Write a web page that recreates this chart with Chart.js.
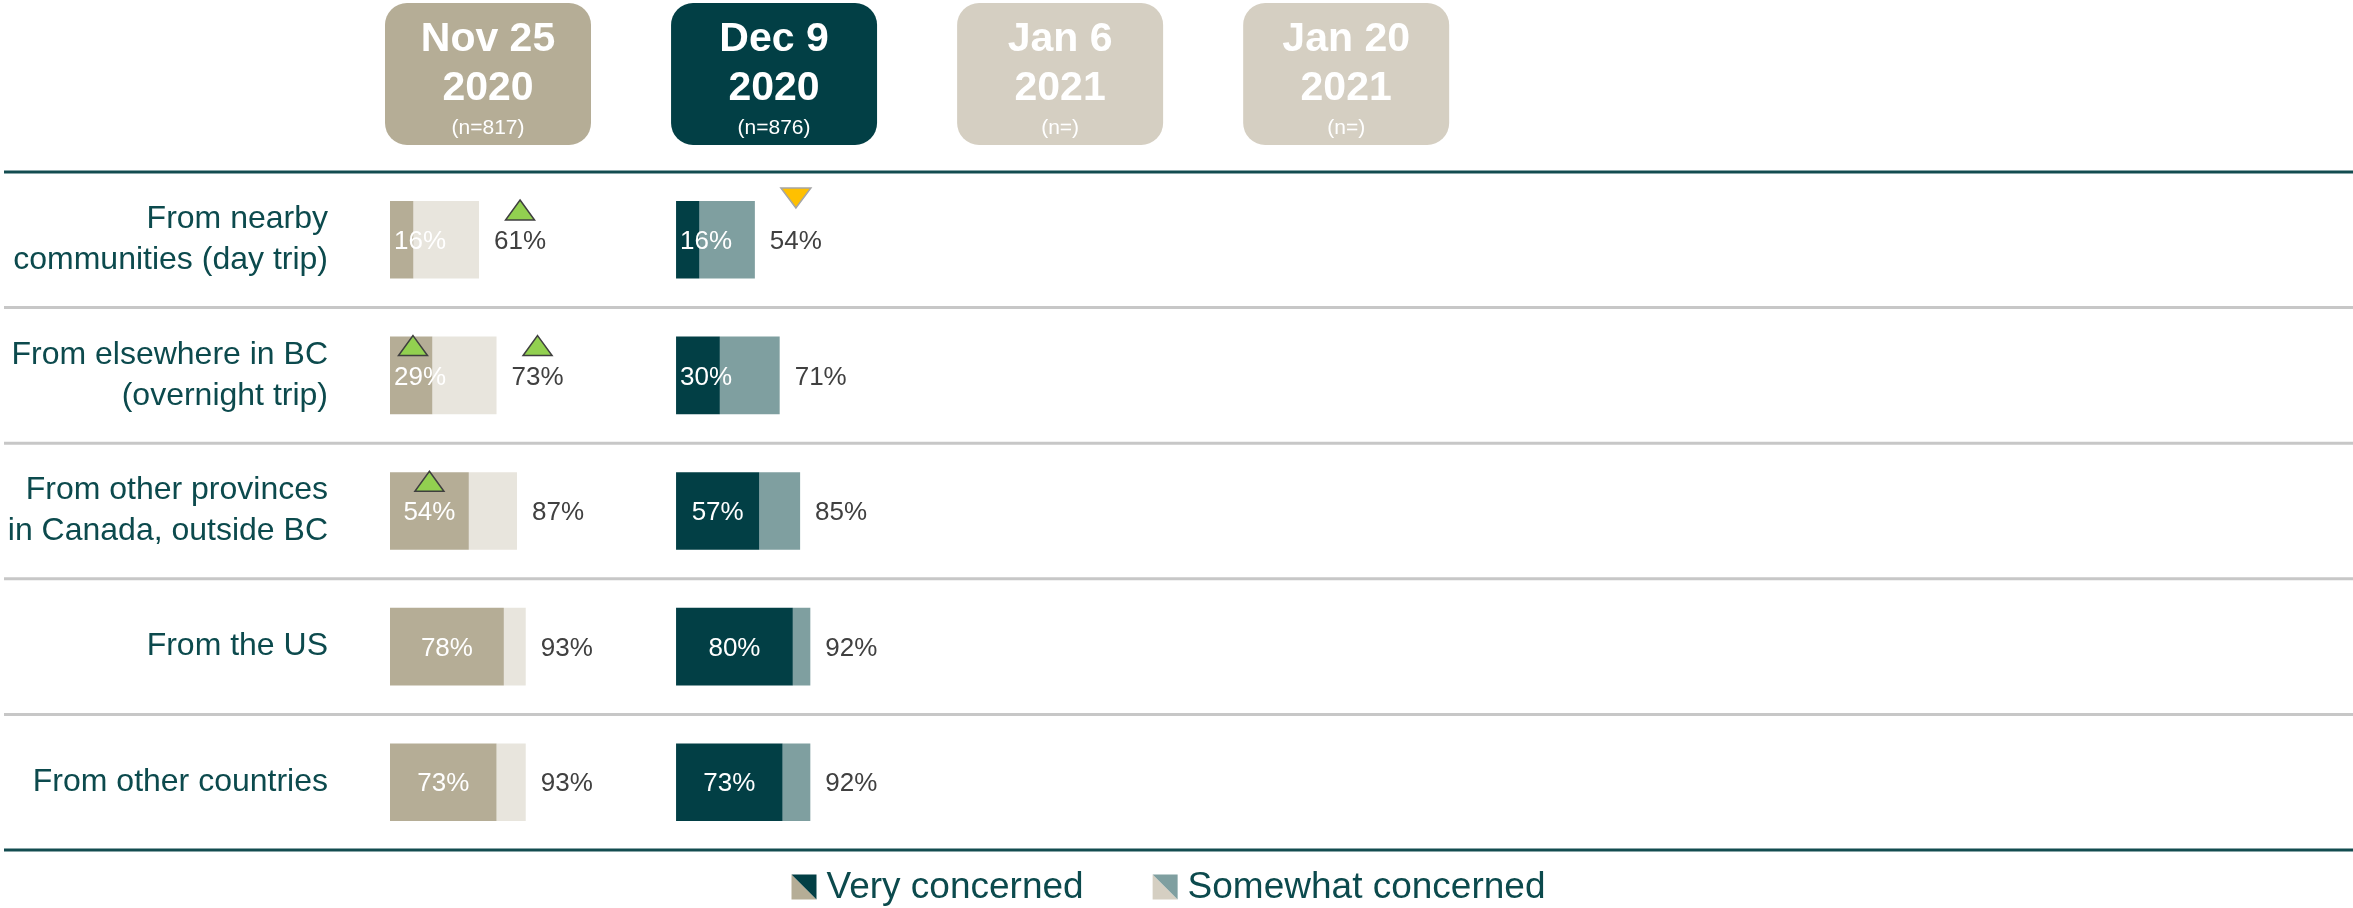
<!DOCTYPE html>
<html lang="en">
<head>
<meta charset="utf-8">
<title>Concern about visitors by origin</title>
<script src="https://cdn.jsdelivr.net/npm/chart.js@4.4.1/dist/chart.umd.min.js"></script>
<style>
    html, body { margin: 0; padding: 0; background: #ffffff; overflow: hidden; }
    #wrap { position: relative; width: 2353px; height: 908px; }
</style>
</head>
<body>
<div id="wrap"><canvas id="concernChart"></canvas></div>
<script>
// Rows (y axis categories)
const rowLabels = [
    ['From nearby', 'communities (day trip)'],
    ['From elsewhere in BC', '(overnight trip)'],
    ['From other provinces', 'in Canada, outside BC'],
    'From the US',
    'From other countries'
];

// Survey waves (column headers)
const waveTitles = ['Nov 25', 'Dec 9', 'Jan 6', 'Jan 20'];
const waveYears = ['2020', '2020', '2021', '2021'];
const waveSamples = ['(n=817)', '(n=876)', '(n=)', '(n=)'];

// % very concerned and % concerned overall (very + somewhat)
const novVery = [16, 29, 54, 78, 73];
const novTotal = [61, 73, 87, 93, 93];
const decVery = [16, 30, 57, 80, 73];
const decTotal = [54, 71, 85, 92, 92];

// significant change markers vs previous wave
const novVerySig = [null, 'up', 'up', null, null];
const novTotalSig = ['up', 'up', null, null, null];
const decVerySig = [null, null, null, null, null];
const decTotalSig = ['down', null, null, null, null];

const legendLabels = ['Very concerned', 'Somewhat concerned'];

// ---- styling ----
const FONT = "'Liberation Sans', Arial, sans-serif";
const LABEL_TEAL = '#0c4a4d';
const headerColors = ['#b5ad96', '#023f45', '#d5cfc2', '#d5cfc2'];
const veryColors = ['#b5ad96', '#023f45'];
const somewhatColors = ['#e8e5dd', '#7f9fa0'];
const legendUpper = ['#023f45', '#7f9fa0'];
const legendLower = ['#b5ad96', '#d5cfc2'];
const WAVE_STEP = 196;  // distance between wave columns, in % units
const X_RANGE = 1345;   // % units visible across the plot area

// waves that have results
const waveData = [
    { wave: 0, very: novVery, total: novTotal, verySig: novVerySig, totalSig: novTotalSig },
    { wave: 1, very: decVery, total: decTotal, verySig: decVerySig, totalSig: decTotalSig }
];

const datasets = [];
waveData.forEach(w => {
    const off = w.wave * WAVE_STEP;
    datasets.push({
        label: waveTitles[w.wave] + ' - ' + legendLabels[0],
        data: w.very.map(v => [off, off + v]),
        backgroundColor: veryColors[w.wave]
    });
    datasets.push({
        label: waveTitles[w.wave] + ' - ' + legendLabels[1],
        data: w.total.map((t, i) => [off + w.very[i], off + t]),
        backgroundColor: somewhatColors[w.wave]
    });
});
datasets.forEach(ds => {
    ds.grouped = false;
    ds.categoryPercentage = 1;
    ds.barPercentage = 0.572;
    ds.borderWidth = 0;
});

function drawArrow(ctx, dir, cx, barTop) {
    if (!dir) return;
    ctx.beginPath();
    if (dir === 'up') {
        ctx.moveTo(cx, barTop - 1);
        ctx.lineTo(cx + 14.5, barTop + 19);
        ctx.lineTo(cx - 14.5, barTop + 19);
        ctx.fillStyle = '#92d050';
        ctx.strokeStyle = '#3f3f3f';
    } else {
        ctx.moveTo(cx - 15, barTop - 13);
        ctx.lineTo(cx + 15, barTop - 13);
        ctx.lineTo(cx, barTop + 7);
        ctx.fillStyle = '#ffc000';
        ctx.strokeStyle = '#a5a5a5';
    }
    ctx.closePath();
    ctx.fill();
    ctx.lineWidth = 1.5;
    ctx.stroke();
}

// row separators, full width
const rowRules = {
    id: 'rowRules',
    beforeDatasetsDraw(chart) {
        const { ctx, scales: { y } } = chart;
        const n = rowLabels.length;
        const step = (y.bottom - y.top) / n;
        ctx.save();
        ctx.lineWidth = 3;
        for (let i = 0; i <= n; i++) {
            const yy = y.top + i * step;
            ctx.strokeStyle = (i === 0 || i === n) ? '#134c50' : '#c7c7c7';
            ctx.beginPath();
            ctx.moveTo(4, yy);
            ctx.lineTo(chart.width, yy);
            ctx.stroke();
        }
        ctx.restore();
    }
};

// rounded wave boxes at the top
const waveHeaders = {
    id: 'waveHeaders',
    beforeDatasetsDraw(chart) {
        const { ctx, scales: { x } } = chart;
        ctx.save();
        waveTitles.forEach((title, i) => {
            const left = x.getPixelForValue(i * WAVE_STEP) - 5;
            const w = 206;
            ctx.fillStyle = headerColors[i];
            ctx.beginPath();
            ctx.roundRect(left, 3, w, 142, 22);
            ctx.fill();
            ctx.fillStyle = '#ffffff';
            ctx.textAlign = 'center';
            ctx.textBaseline = 'alphabetic';
            ctx.font = 'bold 41px ' + FONT;
            ctx.fillText(title, left + w / 2, 51);
            ctx.fillText(waveYears[i], left + w / 2, 100);
            ctx.font = '21px ' + FONT;
            ctx.fillText(waveSamples[i], left + w / 2, 134);
        });
        ctx.restore();
    }
};

// percentages and change markers
const valueLabels = {
    id: 'valueLabels',
    afterDatasetsDraw(chart) {
        const ctx = chart.ctx;
        ctx.save();
        ctx.font = '26px ' + FONT;
        ctx.textBaseline = 'middle';
        waveData.forEach((w, k) => {
            const veryBars = chart.getDatasetMeta(k * 2).data;
            const restBars = chart.getDatasetMeta(k * 2 + 1).data;
            w.very.forEach((v, i) => {
                const vb = veryBars[i];
                const rb = restBars[i];
                const top = vb.y - vb.height / 2;
                const segCenter = (vb.base + vb.x) / 2;

                const inner = v + '%';
                const iw = ctx.measureText(inner).width;
                ctx.fillStyle = '#ffffff';
                ctx.textAlign = 'center';
                ctx.fillText(inner, Math.max(segCenter, vb.base + 4 + iw / 2), vb.y + 2);

                const outer = w.total[i] + '%';
                const ow = ctx.measureText(outer).width;
                const ox = rb.x + 15;
                ctx.fillStyle = '#404040';
                ctx.textAlign = 'left';
                ctx.fillText(outer, ox, vb.y + 2);

                drawArrow(ctx, w.verySig[i], Math.max(segCenter, vb.base + 23), top);
                drawArrow(ctx, w.totalSig[i], ox + ow / 2, top);
            });
        });
        ctx.restore();
    }
};

// legend with split swatches
const swatchLegend = {
    id: 'swatchLegend',
    afterDraw(chart) {
        const ctx = chart.ctx;
        const size = 25, gapIcon = 10, gapItem = 69;
        const cy = chart.height - 21;
        ctx.save();
        ctx.font = '37px ' + FONT;
        const widths = legendLabels.map(t => ctx.measureText(t).width);
        const total = widths.reduce((a, b) => a + b, 0) +
            legendLabels.length * (size + gapIcon) + gapItem * (legendLabels.length - 1);
        let x = chart.width / 2 - total / 2 - 8;
        legendLabels.forEach((label, i) => {
            const top = cy - size / 2;
            ctx.fillStyle = legendLower[i];
            ctx.beginPath();
            ctx.moveTo(x, top);
            ctx.lineTo(x + size, top + size);
            ctx.lineTo(x, top + size);
            ctx.closePath();
            ctx.fill();
            ctx.fillStyle = legendUpper[i];
            ctx.beginPath();
            ctx.moveTo(x, top);
            ctx.lineTo(x + size, top);
            ctx.lineTo(x + size, top + size);
            ctx.closePath();
            ctx.fill();
            x += size + gapIcon;
            ctx.fillStyle = LABEL_TEAL;
            ctx.textAlign = 'left';
            ctx.textBaseline = 'middle';
            ctx.fillText(label, x, cy + 1);
            x += widths[i] + gapItem;
        });
        ctx.restore();
    }
};

const ctx = document.getElementById('concernChart').getContext('2d');
new Chart(ctx, {
    type: 'bar',
    data: { labels: rowLabels, datasets: datasets },
    options: {
        indexAxis: 'y',
        responsive: true,
        maintainAspectRatio: false,
        animation: false,
        layout: { padding: { top: 172, bottom: 58, left: 0, right: 0 } },
        plugins: {
            legend: { display: false },
            tooltip: { enabled: false }
        },
        scales: {
            x: {
                type: 'linear',
                min: 0,
                max: X_RANGE,
                display: false
            },
            y: {
                grid: { display: false, drawTicks: false },
                border: { display: false },
                ticks: {
                    color: LABEL_TEAL,
                    padding: 62,
                    font: { family: FONT, size: 32, lineHeight: 1.28 }
                },
                afterFit: scale => {
                    scale.width = 390;
                    scale.paddingTop = 0;
                    scale.paddingBottom = 0;
                }
            }
        }
    },
    plugins: [rowRules, waveHeaders, valueLabels, swatchLegend]
});
</script>
</body>
</html>
